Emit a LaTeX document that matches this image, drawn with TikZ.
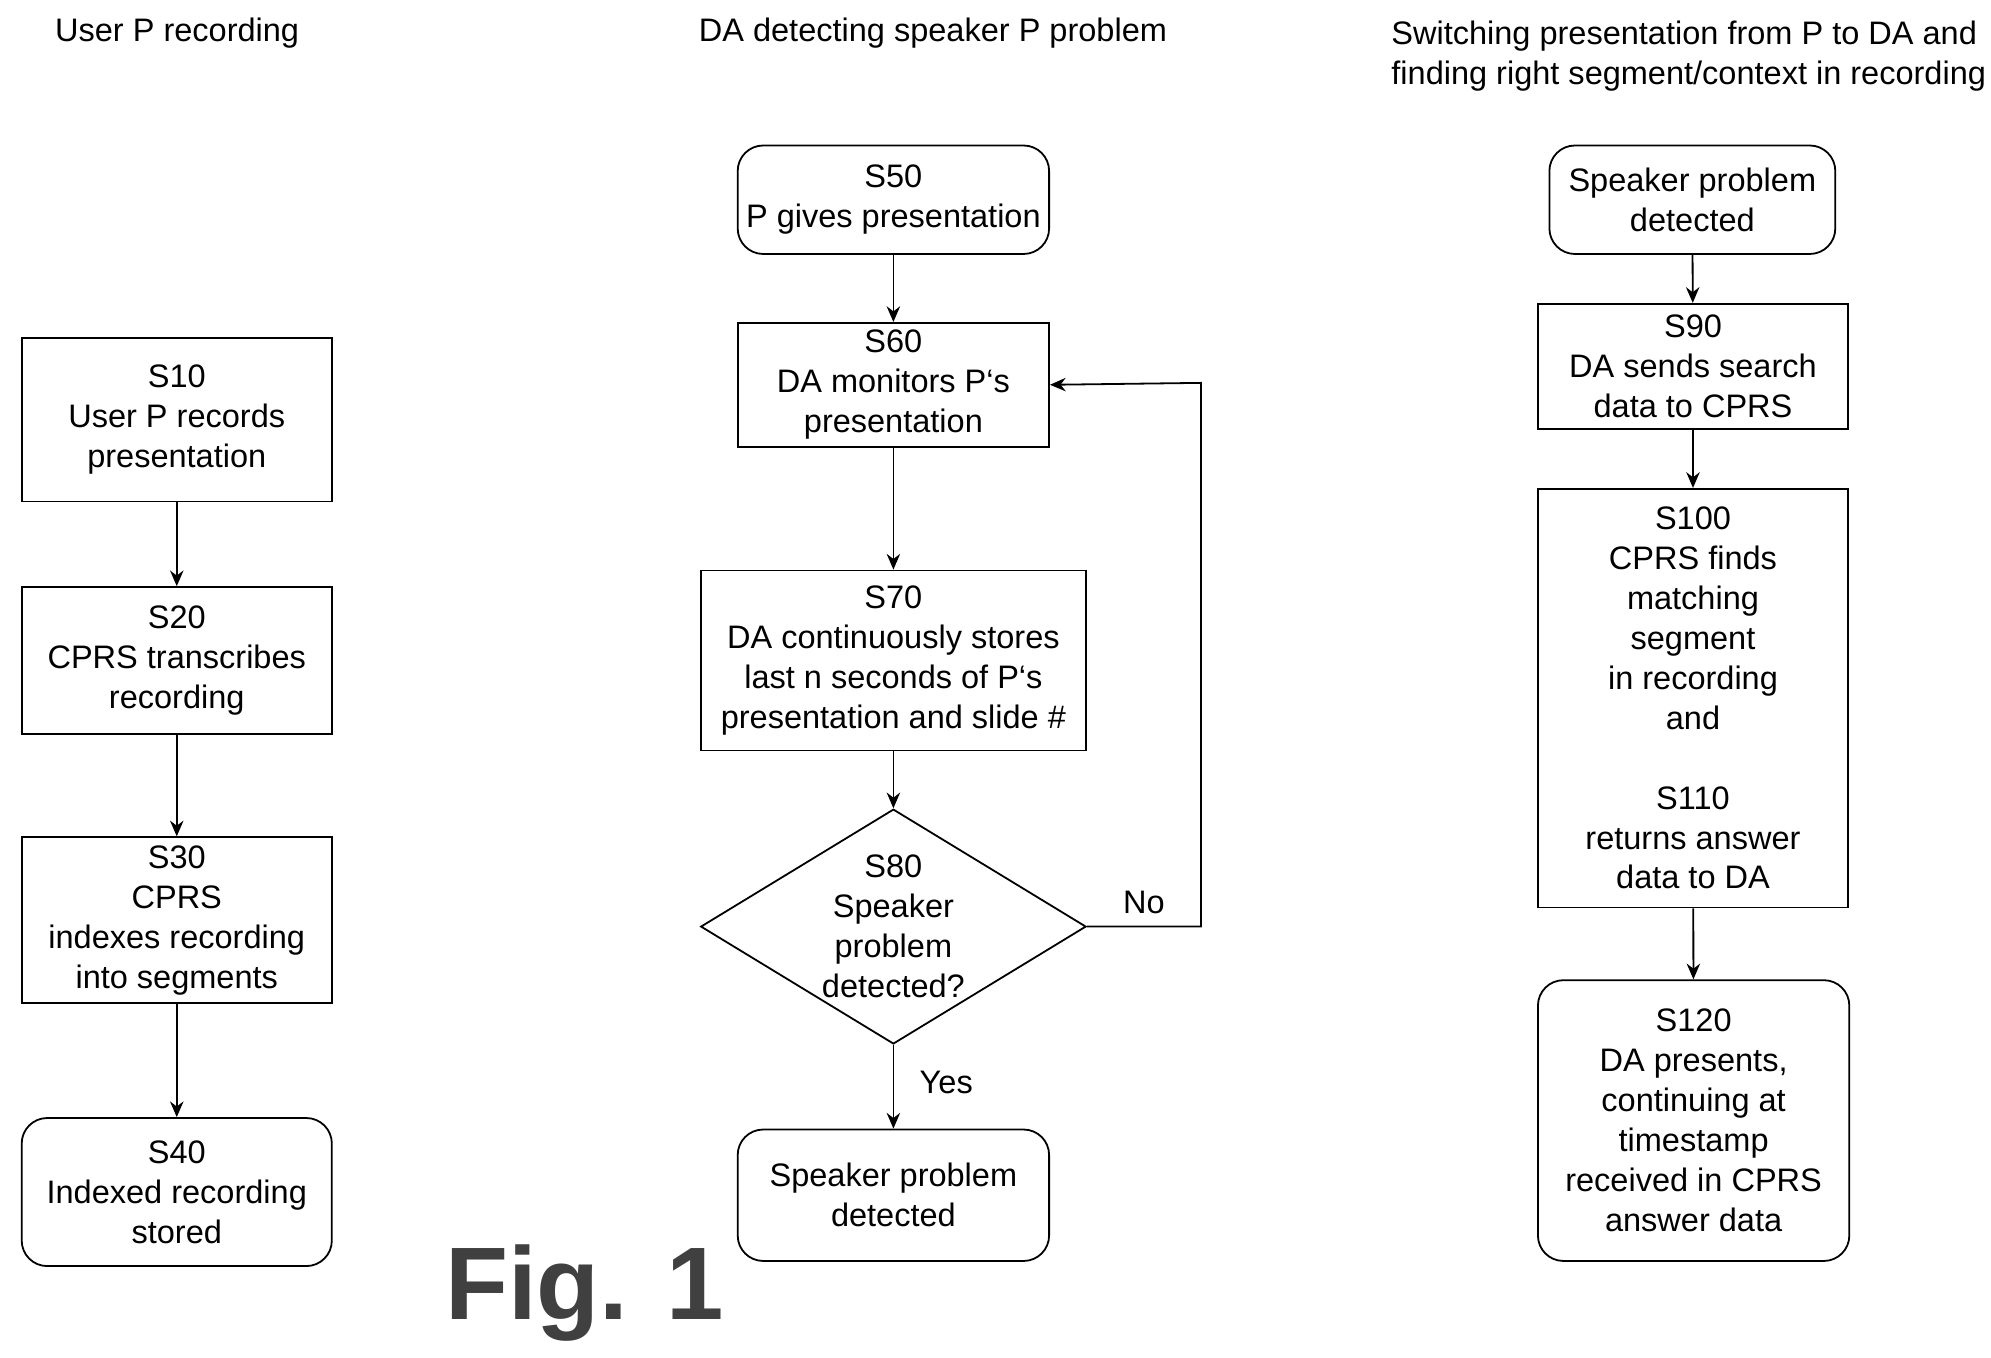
\documentclass[tikz,border=0pt]{standalone}
\usepackage{fontspec}
\setmainfont{Liberation Sans}
\usetikzlibrary{shapes.geometric,arrows.meta}
\begin{document}
\begin{tikzpicture}[x=0.02cm,y=-0.02cm,
  every node/.style={font=\fontsize{14.5}{17.8}\selectfont},
  box/.style={draw,thick,align=center,inner sep=0pt},
  rbox/.style={box,rounded corners=0.4cm},
  ar/.style={thick,-{Stealth[length=7pt,width=6pt]}}]
\useasboundingbox (0,0) rectangle (1560,1064);
\def\bx#1#2#3#4#5#6#7{\node[#1,minimum width={(#4-#3)*0.02cm},minimum height={(#6-#5)*0.02cm}] (#2) at ({(#3+#4)/2},{(#5+#6)/2}) {#7};}
\node[anchor=west] (t1) at (37,26) {User P recording};
\node (t2) at (731,26) {DA detecting speaker P problem};
\node[anchor=west,align=left] (t3) at (1084,44) {Switching presentation from P to DA and\\finding right segment/context in recording};
\bx{box}{s10}{17}{260}{265}{393}{S10\\User P records\\presentation}
\bx{box}{s20}{17}{260}{460}{575}{S20\\CPRS transcribes\\recording}
\bx{box}{s30}{17}{260}{656}{786}{S30\\CPRS\\indexes recording\\into segments}
\bx{rbox}{s40}{17}{260}{876}{992}{S40\\Indexed recording\\stored}
\bx{rbox}{s50}{578}{822}{114}{199}{S50\\P gives presentation}
\bx{box}{s60}{578}{822}{253}{350}{S60\\DA monitors P`s\\presentation}
\bx{box}{s70}{549}{851}{447}{588}{S70\\DA continuously stores\\last n seconds of P`s\\presentation and slide \#}
\node[draw,thick,diamond,aspect=1.64,inner sep=0pt,minimum width=6.04cm,minimum height=3.68cm,align=center] (s80) at (700,726) {S80\\Speaker\\problem\\detected?};
\bx{rbox}{spd}{578}{822}{885}{988}{Speaker problem\\detected}
\bx{rbox}{rpd}{1214}{1438}{114}{199}{Speaker problem\\detected}
\bx{box}{s90}{1205}{1448}{238}{336}{S90\\DA sends search\\data to CPRS}
\bx{box}{s100}{1205}{1448}{383}{711}{S100\\CPRS finds\\matching\\segment\\in recording\\and\\[17.8pt]S110\\returns answer\\data to DA}
\bx{rbox}{s120}{1205}{1449}{768}{988}{S120\\DA presents,\\continuing at\\timestamp\\received in CPRS\\answer data}
\draw[ar] (s10) -- (s20);
\draw[ar] (s20) -- (s30);
\draw[ar] (s30) -- (s40);
\draw[ar] (s50) -- (s60);
\draw[ar] (s60) -- (s70);
\draw[ar] (s70) -- (s80);
\draw[ar] (s80) -- node[right=8pt,pos=0.45] (yes) {Yes} (spd);
\coordinate (c1) at (941,726);
\coordinate (c2) at (941,300);
\draw[ar] (s80.east) -- node[above=2pt] (no) {No} (c1) -- (c2) -- (s60.east);
\draw[ar] (rpd) -- (s90);
\draw[ar] (s90) -- (s100);
\draw[ar] (s100) -- (s120);
\node[font=\fontsize{46}{50}\selectfont\bfseries,text=black!75] (fig) at (458,1013) {Fig. 1};
\end{tikzpicture}
\end{document}
